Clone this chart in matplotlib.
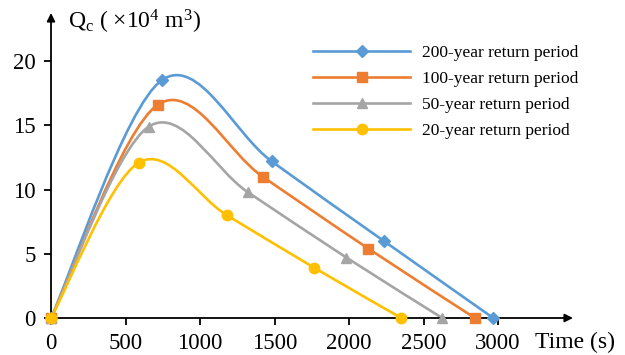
import numpy as np
import matplotlib
matplotlib.use("Agg")
import matplotlib.pyplot as plt
from matplotlib.path import Path
from matplotlib.patches import PathPatch
from matplotlib.lines import Line2D

plt.rcParams['font.family'] = ['Liberation Serif', 'DejaVu Serif']
plt.rcParams['mathtext.fontset'] = 'custom'
plt.rcParams['mathtext.rm'] = 'Liberation Serif'
plt.rcParams['mathtext.it'] = 'Liberation Serif:italic'

labels = ["200-year return period", "100-year return period",
          "50-year return period", "20-year return period"]
t200 = [0, 743, 1480, 2233, 2968]
q200 = [0, 18.5, 12.2, 6.0, 0]
t100 = [0, 717, 1420, 2130, 2845]
q100 = [0, 16.6, 11.0, 5.4, 0]
t50 = [0, 657, 1320, 1983, 2626]
q50 = [0, 14.9, 9.8, 4.7, 0]
t20 = [0, 590, 1180, 1768, 2351]
q20 = [0, 12.1, 8.0, 3.9, 0]
xticks = [0, 500, 1000, 1500, 2000, 2500, 3000]
yticks = [0, 5, 10, 15, 20]

colors = ["#5B9BD5", "#ED7D31", "#A5A5A5", "#FFC000"]
markers = ["D", "s", "^", "o"]
msizes = [6.5, 7, 7.5, 7.5]

W, H = 625, 355
fig = plt.figure(figsize=(W / 100, H / 100), dpi=100)
ax = fig.add_axes([51 / W, (H - 318) / H, (573 - 51) / W, (318 - 13) / H])
xmax = (573 - 51) / (447 / 3000)
ymax = (318 - 13) / 12.85
ax.set_xlim(0, xmax)
ax.set_ylim(0, ymax)


def smooth_path(xs, ys):
    # Excel-like smoothed line (Catmull-Rom as cubic Bezier)
    P = np.column_stack([xs, ys]).astype(float)
    n = len(P)
    verts = [P[0]]
    codes = [Path.MOVETO]
    for i in range(n - 1):
        p0 = P[i - 1] if i > 0 else P[i]
        p1 = P[i]
        p2 = P[i + 1]
        p3 = P[i + 2] if i + 2 < n else P[i + 1]
        c1 = p1 + (p2 - p0) / 6
        c2 = p2 - (p3 - p1) / 6
        verts += [c1, c2, p2]
        codes += [Path.CURVE4] * 3
    return Path(verts, codes)


series = [(t200, q200), (t100, q100), (t50, q50), (t20, q20)]
handles = []
for (xs, ys), c, m, ms, lab in zip(series, colors, markers, msizes, labels):
    patch = PathPatch(smooth_path(xs, ys), facecolor='none', edgecolor=c,
                      lw=1.9, clip_on=False, zorder=3, capstyle='round')
    ax.add_patch(patch)
    ax.plot(xs, ys, linestyle='none', marker=m, color=c, markersize=ms,
            clip_on=False, zorder=4)
    handles.append(Line2D([], [], color=c, lw=1.9, marker=m, markersize=ms))

for s in ax.spines.values():
    s.set_visible(False)
ax.annotate('', xy=(1, 0), xytext=(0, 0), xycoords='axes fraction',
            arrowprops=dict(arrowstyle='-|>', color='k', lw=1.3,
                            mutation_scale=12, shrinkA=0, shrinkB=0))
ax.annotate('', xy=(0, 1), xytext=(0, 0), xycoords='axes fraction',
            arrowprops=dict(arrowstyle='-|>', color='k', lw=1.3,
                            mutation_scale=12, shrinkA=0, shrinkB=0))

ax.set_xticks(xticks)
ax.set_yticks(yticks)
ax.tick_params(axis='both', direction='out', length=5, width=1.3,
               labelsize=16.5, color='k')
ax.tick_params(axis='x', pad=6)
ax.tick_params(axis='y', pad=6)

ax.text(68 / W, 1 - 22 / H, r"Q$_{\mathrm{c}}$ ( ×10$^{4}$ m$^{3}$)",
        transform=fig.transFigure, fontsize=17, va='center', ha='left')
ax.text(535 / W, 1 - 342 / H, "Time (s)", transform=fig.transFigure,
        fontsize=17, va='center', ha='left')

leg = fig.legend(handles, labels, loc='upper left',
                 bbox_to_anchor=(313 / W, 1 - 45 / H), frameon=False,
                 fontsize=12.5, handlelength=5.6, handletextpad=0.7,
                 labelspacing=0.56, borderaxespad=0, borderpad=0)

fig.savefig("out.png", dpi=100)
